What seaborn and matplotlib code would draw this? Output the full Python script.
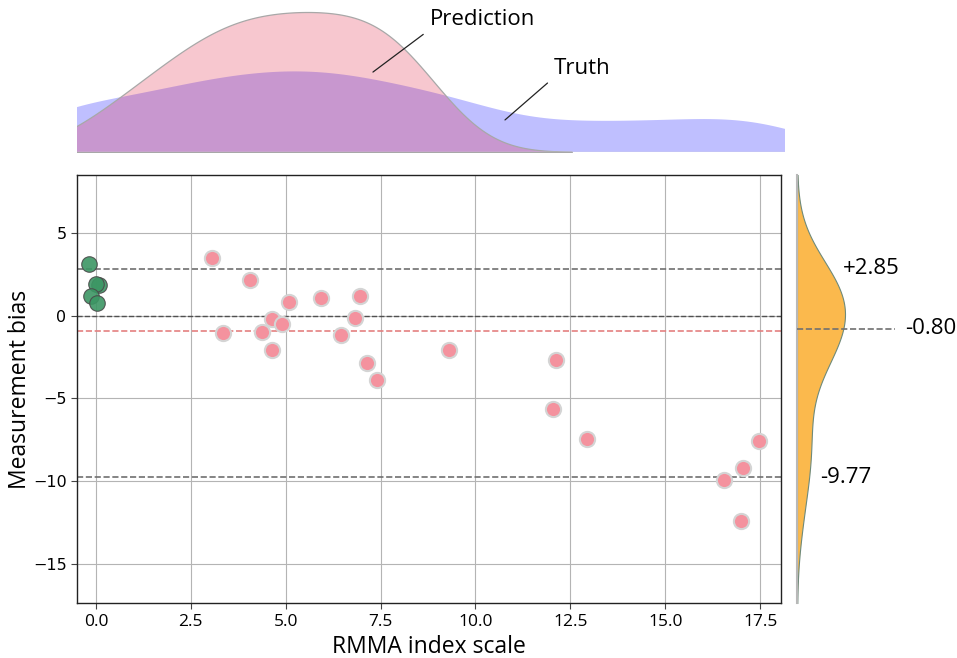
import numpy as np
import pandas as pd
import matplotlib
matplotlib.use("Agg")
import matplotlib.pyplot as plt
import matplotlib.transforms as mtransforms
import seaborn as sns

# ---------------- data ----------------
green_x = [-0.18, 0.09, 0.00, -0.14, 0.03]
green_y = [3.15, 1.84, 1.90, 1.19, 0.75]

pink_x = [3.05, 4.07, 3.34, 4.38, 4.64, 4.89, 5.09, 4.64, 5.92, 6.46, 6.82,
          6.95, 7.14, 7.41, 9.29, 12.11, 12.05, 12.95, 17.47, 17.05, 16.55, 16.99]
pink_y = [3.48, 2.15, -1.07, -0.99, -0.18, -0.52, 0.83, -2.10, 1.09, -1.17, -0.12,
          1.19, -2.85, -3.88, -2.10, -2.65, -5.62, -7.45, -7.59, -9.23, -9.92, -12.40]

# marginal distributions (estimated from the top density shapes)
prediction = [0.05, 0.9, 1.45, 1.95, 2.35, 2.7, 3.05, 3.35, 3.6, 3.9, 4.2, 4.5,
              4.75, 5.05, 5.35, 5.6, 5.9, 6.2, 6.45, 6.75, 7.05, 7.35, 7.6, 7.9,
              8.2, 8.45, 8.75]
truth = [-1.3, 0.0, 1.3, 2.7, 4.0, 5.3, 6.6, 8.0, 9.3, 10.6, 12.0, 13.3, 14.6,
         15.9, 17.0, 18.1,
         -0.85, 1.16, 2.35, 3.30, 4.12, 4.9, 5.68, 6.4, 7.2, 8.2, 9.6]

upper_loa = 2.85
lower_loa = -9.77
mean_label = -0.80
mean_line = -0.95
loa_labels = ["+2.85", "-0.80", "-9.77"]

x_ticks = [0.0, 2.5, 5.0, 7.5, 10.0, 12.5, 15.0, 17.5]
y_ticks = [-15, -10, -5, 0, 5]

# ---------------- derived tables ----------------
all_x = np.array(green_x + pink_x)
all_y = np.array(green_y + pink_y)
df = pd.DataFrame({"x": all_x, "bias": all_y,
                   "group": ["g"] * len(green_x) + ["p"] * len(pink_x)})

sns.set_style("white")
plt.rcParams["font.family"] = ["DejaVu Sans"]
plt.rcParams["text.color"] = "black"
plt.rcParams["axes.labelcolor"] = "black"
plt.rcParams["xtick.color"] = "black"
plt.rcParams["ytick.color"] = "black"

W, H = 957, 658
fig = plt.figure(figsize=(W / 100, H / 100), dpi=100)

def box(l, r, t, b):
    return [l / W, 1 - b / H, (r - l) / W, (b - t) / H]

ax = fig.add_axes(box(77, 781, 175.3, 603.3))
ax_top = fig.add_axes(box(77, 785, 8, 152))
ax_r = fig.add_axes(box(797, 870, 175.3, 603.3))

# ---------------- main scatter ----------------
ax.set_xlim(-0.5, 18.05)
ax.set_ylim(-17.4, 8.5)
ax.set_xticks(x_ticks)
ax.set_yticks(y_ticks)
ax.grid(True, color="#b4b4b4", linewidth=0.8)
ax.set_axisbelow(True)

sns.scatterplot(data=df[df.group == "p"], x="x", y="bias", ax=ax,
                color="#F4929E", edgecolor="#d4d4d4", linewidth=1.5, s=120,
                zorder=3, legend=False)
sns.scatterplot(data=df[df.group == "g"], x="x", y="bias", ax=ax,
                color="#3C9664", edgecolor="#4a4a4a", linewidth=0.8, s=125,
                alpha=0.9, zorder=4, legend=False)

ax.axhline(upper_loa, color="#707070", ls="--", lw=1.2, zorder=2)
ax.axhline(lower_loa, color="#707070", ls="--", lw=1.2, zorder=2)
ax.axhline(0, color="#505050", ls="--", lw=1.0, zorder=2)
ax.axhline(mean_line, color="#E48080", ls="--", lw=1.2, zorder=2)

for s in ax.spines.values():
    s.set_color("#222222")
    s.set_linewidth(1.0)
ax.tick_params(axis="both", labelsize=11.5, length=4, color="#444444",
               left=True, bottom=True)
for lab in ax.get_xticklabels():
    lab.set_family(["Liberation Sans Narrow", "Open Sans", "DejaVu Sans"])
    lab.set_fontsize(12.5)
ax.set_xlabel("RMMA index scale", family=["Open Sans", "DejaVu Sans"],
              fontsize=16.5, labelpad=4)
ax.set_ylabel("Measurement bias", family=["Open Sans", "DejaVu Sans"],
              fontsize=16.5)
ax.yaxis.set_label_coords(-0.064, 0.5)

# ---------------- top marginal KDEs ----------------
sns.kdeplot(x=truth, ax=ax_top, fill=True, color="blue", alpha=0.25,
            linewidth=0, bw_adjust=0.5)
sns.kdeplot(x=prediction, ax=ax_top, fill=True, color="#E32343", alpha=0.25,
            edgecolor="#a8a8a8", linewidth=0.9)
ax_top.set_xlim(-0.5, 18.16)
ymax = max(p.get_paths()[0].vertices[:, 1].max() for p in ax_top.collections)
ax_top.set_ylim(0, ymax * (152 - 8) / (152 - 12))
ax_top.axis("off")
ax_top.axhline(0, color="#d8d8d8", lw=1.0)

ann_font = dict(fontsize=16, family=["Open Sans", "DejaVu Sans"], va="center",
                ha="left")
ax_top.annotate("Prediction", xy=(7.30, ymax * 0.571), xytext=(8.80, ymax * 0.943),
                arrowprops=dict(arrowstyle="-", color="#222222", lw=0.9,
                                shrinkA=3, shrinkB=0, relpos=(0, 0.05)),
                **ann_font)
ax_top.annotate("Truth", xy=(10.78, ymax * 0.229), xytext=(12.07, ymax * 0.60),
                arrowprops=dict(arrowstyle="-", color="#222222", lw=0.9,
                                shrinkA=3, shrinkB=0, relpos=(0, 0.05)),
                **ann_font)

# ---------------- right marginal KDE ----------------
sns.kdeplot(y=all_y, ax=ax_r, fill=True, color="#FBB23A", alpha=0.9,
            edgecolor="#6f8a7a", linewidth=0.8)
ax_r.set_ylim(-17.4, 8.5)
xmax = max(p.get_paths()[0].vertices[:, 0].max() for p in ax_r.collections)
ax_r.set_xlim(0, xmax * (870 - 797) / (845 - 797))
for name, s in ax_r.spines.items():
    s.set_visible(name == "left")
ax_r.spines["left"].set_color("#b8b8b8")
ax_r.spines["left"].set_linewidth(1.5)
ax_r.set_xticks([])
ax_r.set_yticks([])
ax_r.set_xlabel("")
ax_r.set_ylabel("")

tr = mtransforms.blended_transform_factory(fig.transFigure, ax_r.transData)
lab_font = dict(fontsize=16, family=["Open Sans", "DejaVu Sans"], va="center",
                transform=tr)
fig.text(843 / W, upper_loa, loa_labels[0], ha="left", **lab_font)
fig.text(905 / W, mean_label, loa_labels[1], ha="left", **lab_font)
fig.text(820 / W, lower_loa, loa_labels[2], ha="left", **lab_font)
ln = plt.Line2D([797 / W, 895 / W], [mean_label, mean_label], transform=tr,
                color="#707070", ls="--", lw=1.2)
fig.add_artist(ln)

fig.savefig("out.png", dpi=100)
